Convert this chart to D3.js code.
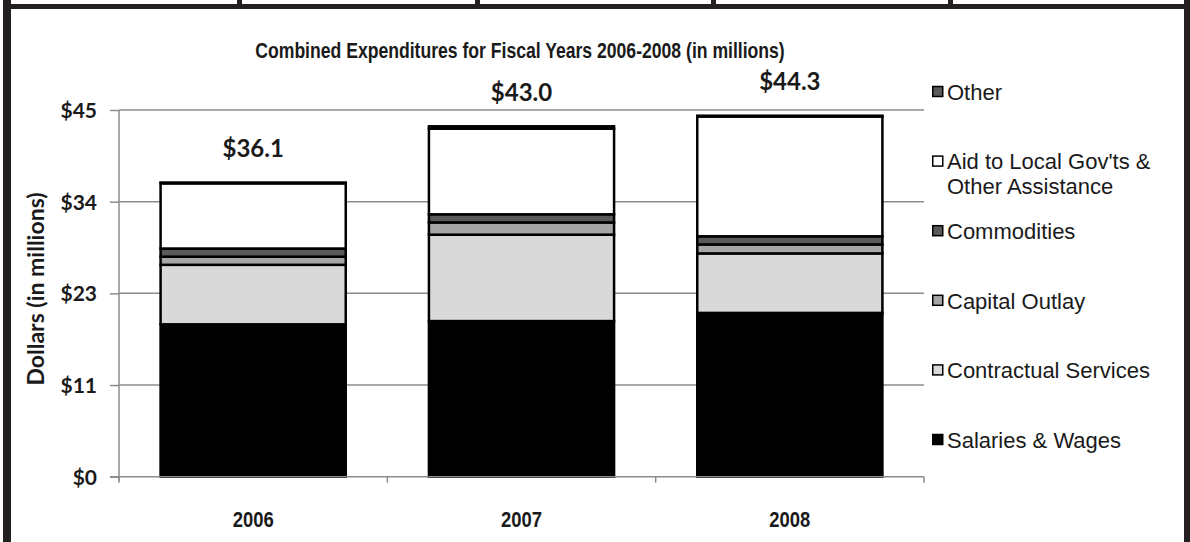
<!DOCTYPE html>
<html>
<head>
<meta charset="utf-8">
<script src="https://cdn.jsdelivr.net/npm/d3@7"></script>
<style>
  body { margin: 0; background: #fff; }
  svg { display: block; }
</style>
</head>
<body>
<svg id="chart" width="1190" height="542"></svg>
<script>
/**
 * Data.
 */
const years = ['2006', '2007', '2008'];
const salaries = [18.7, 19.1, 20.1];
const contractual = [7.3, 10.6, 7.3];
const capital = [1.0, 1.5, 1.1];
const commodities = [1.0, 1.0, 1.0];
const aid = [8.0, 10.5, 14.7];
const other = [0.1, 0.3, 0.1];
const totals = [36.1, 43.0, 44.3];
const yTicks = [0, 11.25, 22.5, 33.75, 45];
const seriesKeys = ['salaries', 'contractual', 'capital', 'commodities', 'aid', 'other'];
const legendLabels = [
    ['Other'],
    ["Aid to Local Gov'ts &", 'Other Assistance'],
    ['Commodities'],
    ['Capital Outlay'],
    ['Contractual Services'],
    ['Salaries & Wages']
];
const legendKeys = ['other', 'aid', 'commodities', 'capital', 'contractual', 'salaries'];

/**
 * Visual configs.
 */
const svg = d3.select('#chart');
const plot = { left: 119, right: 924, top: 110, bottom: 476.7 };
const colors = {
    salaries: '#000000',
    contractual: '#d9d9d9',
    capital: '#a6a6a6',
    commodities: '#595959',
    aid: '#ffffff',
    other: '#595959'
};
const frameColor = '#231f20';
const gridColor = '#8c8c8c';
const narrow = '"Liberation Sans", Arial, sans-serif'; // squeezed below, no narrow face installed
const calibri = 'Lato, Carlito, sans-serif';
const arial = '"Liberation Sans", Arial, sans-serif';

const table = years.map((y, i) => ({
    year: y,
    salaries: salaries[i],
    contractual: contractual[i],
    capital: capital[i],
    commodities: commodities[i],
    aid: aid[i],
    other: other[i],
    total: totals[i]
}));

/**
 * Scales.
 */
const xScale = d3.scaleBand().domain(years)
    .range([plot.left, plot.right])
    .paddingInner(0.31).paddingOuter(0.155);
const yScale = d3.scaleLinear().domain([0, 45]).range([plot.bottom, plot.top]);

/**
 * Frame around the chart (table cell).
 */
const frame = svg.append('g').attr('fill', frameColor);
frame.append('rect').attr('x', 3).attr('y', 0).attr('width', 8).attr('height', 542);
frame.append('rect').attr('x', 1184).attr('y', 0).attr('width', 6).attr('height', 542);
frame.append('rect').attr('x', 3).attr('y', 4).attr('width', 1187).attr('height', 5);
[237, 475, 711, 948].forEach(x => {
    frame.append('rect').attr('x', x).attr('y', 0).attr('width', 5).attr('height', 6);
});

/**
 * Gridlines and axes.
 */
const grid = svg.append('g');
grid.selectAll('line')
    .data(yTicks.filter(d => d > 0))
    .join('line')
        .attr('x1', plot.left).attr('x2', plot.right)
        .attr('y1', d => yScale(d)).attr('y2', d => yScale(d))
        .attr('stroke', gridColor).attr('stroke-width', 1.5);

const yAxis = d3.axisLeft(yScale).tickValues(yTicks).tickSize(9)
    .tickFormat(d => '$' + Math.round(d));
const yAxisG = svg.append('g').attr('transform', `translate(${plot.left},0)`).call(yAxis);
yAxisG.select('.domain').remove();
yAxisG.selectAll('.tick line').attr('stroke', gridColor).attr('stroke-width', 1.5);
yAxisG.selectAll('.tick text')
    .attr('x', -22)
    .attr('dy', '0.35em')
    .style('font-family', calibri).style('font-weight', 'bold')
    .style('font-size', '21px').attr('fill', '#1a1a1a');
yAxisG.append('line')
    .attr('x1', 0).attr('x2', 0)
    .attr('y1', plot.top).attr('y2', plot.bottom + 4)
    .attr('stroke', gridColor).attr('stroke-width', 1.5);

/**
 * Bars.
 */
const stack = d3.stack().keys(seriesKeys)(table);
svg.append('g').selectAll('g')
    .data(stack)
    .join('g')
        .attr('fill', d => colors[d.key])
    .selectAll('rect')
        .data(d => d)
        .join('rect')
            .attr('x', d => xScale(d.data.year))
            .attr('y', d => yScale(d[1]))
            .attr('width', xScale.bandwidth())
            .attr('height', d => yScale(d[0]) - yScale(d[1]))
            .attr('stroke', '#000')
            .attr('stroke-width', 2.5);

// x axis line and category ticks
const xAxisG = svg.append('g');
xAxisG.append('line')
    .attr('x1', plot.left - 9).attr('x2', plot.right)
    .attr('y1', plot.bottom).attr('y2', plot.bottom)
    .attr('stroke', gridColor).attr('stroke-width', 1.5);
const boundaries = years.map(y => xScale(y) - xScale.step() * xScale.paddingInner() / 2)
    .concat([plot.right]);
xAxisG.selectAll('line.cat')
    .data(boundaries)
    .join('line')
        .attr('class', 'cat')
        .attr('x1', d => d).attr('x2', d => d)
        .attr('y1', plot.bottom).attr('y2', plot.bottom + 6)
        .attr('stroke', gridColor).attr('stroke-width', 1.5);
xAxisG.selectAll('text')
    .data(years)
    .join('text')
        .attr('transform', d => `translate(${xScale(d) + xScale.bandwidth() / 2},519) scale(0.84,1)`)
        .attr('dy', '0.35em')
        .attr('text-anchor', 'middle')
        .style('font-family', narrow).style('font-weight', 'bold')
        .style('font-size', '22px').attr('fill', '#1a1a1a')
        .text(d => d);

/**
 * Total labels.
 */
svg.append('g').selectAll('text')
    .data(table)
    .join('text')
        .attr('x', d => xScale(d.year) + xScale.bandwidth() / 2)
        .attr('y', d => yScale(d.total) - 34)
        .attr('dy', '0.35em')
        .attr('text-anchor', 'middle')
        .style('font-family', calibri).style('font-weight', 'bold')
        .style('font-size', '24px').attr('fill', '#1a1a1a')
        .text(d => '$' + d.total.toFixed(1));

/**
 * Titles.
 */
svg.append('text')
    .attr('transform', 'translate(520,50) scale(0.80,1)')
    .attr('dy', '0.35em')
    .attr('text-anchor', 'middle')
    .style('font-family', narrow).style('font-weight', 'bold')
    .style('font-size', '22px').attr('fill', '#1a1a1a')
    .text('Combined Expenditures for Fiscal Years 2006-2008 (in millions)');

svg.append('text')
    .attr('transform', 'translate(36,289) rotate(-90)')
    .attr('dy', '0.35em')
    .attr('text-anchor', 'middle')
    .style('font-family', calibri).style('font-weight', 'bold')
    .style('font-size', '23px').attr('fill', '#1a1a1a')
    .text('Dollars (in millions)');

/**
 * Legend.
 */
const legend = svg.append('g').attr('transform', 'translate(932,92)');
const item = legend.selectAll('g')
    .data(legendKeys)
    .join('g')
        .attr('transform', (d, i) => `translate(0,${i * 69.6})`);
item.append('rect')
    .attr('x', 0.75).attr('y', -5.5)
    .attr('width', 10).attr('height', 10)
    .attr('fill', d => colors[d])
    .attr('stroke', '#000').attr('stroke-width', 1.5);
item.append('text')
    .attr('x', 15)
    .style('font-family', arial).style('font-size', '22px').attr('fill', '#1a1a1a')
    .selectAll('tspan')
    .data((d, i) => legendLabels[i])
    .join('tspan')
        .attr('x', 15)
        .attr('y', (d, i) => i * 25)
        .attr('dy', '0.35em')
        .text(d => d);
</script>
</body>
</html>
